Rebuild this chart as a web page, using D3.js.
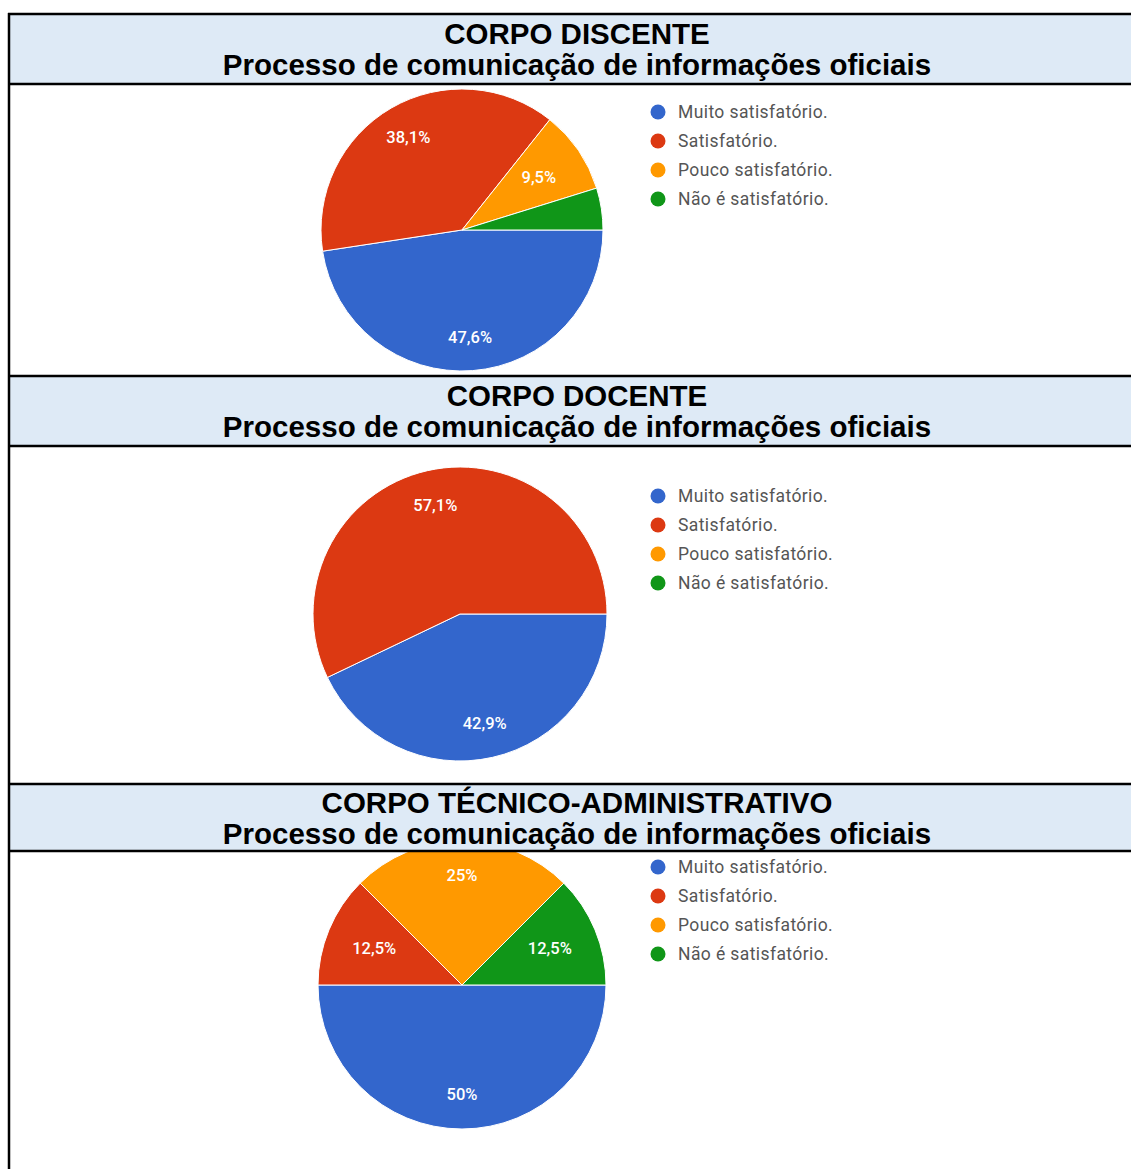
<!DOCTYPE html>
<html lang="pt">
<head>
<meta charset="utf-8">
<title>Processo de comunicação de informações oficiais</title>
<script src="https://d3js.org/d3.v7.min.js"></script>
<style>
  body { margin: 0; background: #fff; }
  .head { font-family: "Liberation Sans", Arial, sans-serif; font-weight: bold; font-size: 29.5px; fill: #000; }
  .legend text { font-family: Roboto, "Noto Sans", sans-serif; font-size: 17.5px; letter-spacing: 0.4px; fill: #555; }
  .slice-label { font-family: Roboto, "Noto Sans", sans-serif; font-size: 16.5px; font-weight: 500; fill: #fff; }
</style>
</head>
<body>
<svg id="chart" width="1131" height="1169"></svg>
<script>
// categories / series
var categories = ["Muito satisfatório.", "Satisfatório.", "Pouco satisfatório.", "Não é satisfatório."];
var groups = ["CORPO DISCENTE", "CORPO DOCENTE", "CORPO TÉCNICO-ADMINISTRATIVO"];
var subtitle = "Processo de comunicação de informações oficiais";
var discente = [47.6, 38.1, 9.5, 4.8];
var docente = [42.9, 57.1, 0, 0];
var tecnico = [50, 12.5, 25, 12.5];
var series = [discente, docente, tecnico];

var colors = ["#3366cc", "#dc3912", "#ff9900", "#109618"];

// layout of the table rows (cellEnd = where the picture cell stops)
var panels = [
  {top: 14,  bottom: 84,  cellEnd: 376,  cx: 462, cy: 230, r: 141},
  {top: 376, bottom: 446, cellEnd: 784,  cx: 460, cy: 614, r: 147},
  {top: 784, bottom: 851, cellEnd: 1169, cx: 462, cy: 985, r: 144}
];

var svg = d3.select("#chart"),
    W = 1131, tableLeft = 9, tableMid = 577;

var color = d3.scaleOrdinal().domain(categories).range(colors);

var pie = d3.pie()
    .sort(null)
    .value(function(d) { return d.value; })
    .startAngle(Math.PI / 2)
    .endAngle(Math.PI / 2 + 2 * Math.PI);

var fmt = function(v) { return String(v).replace(".", ",") + "%"; };

panels.forEach(function(p, i) {
  // picture cell, clipped like the pasted screenshot
  svg.append("clipPath").attr("id", "cell" + i)
    .append("rect")
      .attr("x", 0).attr("y", p.bottom + 1)
      .attr("width", W).attr("height", p.cellEnd - p.bottom - 1);

  var rows = categories.map(function(c, k) { return {cat: c, value: series[i][k]}; });
  var arcs = pie(rows).filter(function(a) { return a.data.value > 0; });
  var arc = d3.arc().innerRadius(0).outerRadius(p.r);
  var labelR = function(d) { return p.r * ((d.endAngle - d.startAngle) >= Math.PI / 2 ? 0.76 : 0.66); };

  var g = svg.append("g").attr("clip-path", "url(#cell" + i + ")")
    .append("g").attr("transform", "translate(" + p.cx + "," + p.cy + ")");

  g.selectAll("path")
    .data(arcs)
    .enter().append("path")
      .attr("d", arc)
      .attr("fill", function(d) { return color(d.data.cat); })
      .attr("stroke", "#fff")
      .attr("stroke-width", 1);

  g.selectAll("text")
    .data(arcs.filter(function(d) { return d.data.value >= 5; }))
    .enter().append("text")
      .attr("class", "slice-label")
      .attr("transform", function(d) {
        var lr = labelR(d);
        return "translate(" + d3.arc().innerRadius(lr).outerRadius(lr).centroid(d) + ")";
      })
      .attr("text-anchor", "middle")
      .attr("dy", "0.35em")
      .text(function(d) { return fmt(d.data.value); });

  // legend
  var lg = svg.append("g").attr("class", "legend")
      .attr("transform", "translate(658," + (p.cy - 118) + ")");
  var item = lg.selectAll("g")
    .data(categories)
    .enter().append("g")
      .attr("transform", function(d, k) { return "translate(0," + k * 29 + ")"; });
  item.append("circle").attr("r", 7.5).attr("fill", function(d) { return color(d); });
  item.append("text").attr("x", 20).attr("dy", "0.35em").text(function(d) { return d; });

  // header band
  var mid = (p.top + p.bottom) / 2;
  svg.append("rect")
      .attr("x", tableLeft).attr("y", p.top)
      .attr("width", W - tableLeft).attr("height", p.bottom - p.top)
      .attr("fill", "#deeaf6");

  svg.append("text").attr("class", "head")
      .attr("x", tableMid).attr("y", mid - 15.5 + 10.5)
      .attr("text-anchor", "middle")
      .text(groups[i]);
  svg.append("text").attr("class", "head")
      .attr("x", tableMid).attr("y", mid + 15.5 + 10.5)
      .attr("text-anchor", "middle")
      .text(subtitle);

  [p.top, p.bottom].forEach(function(y) {
    svg.append("line")
        .attr("x1", tableLeft - 1).attr("x2", W)
        .attr("y1", y).attr("y2", y)
        .attr("stroke", "#000").attr("stroke-width", 2.5);
  });
});

// left border of the table
svg.append("line")
    .attr("x1", tableLeft).attr("x2", tableLeft)
    .attr("y1", 13).attr("y2", 1169)
    .attr("stroke", "#000").attr("stroke-width", 2.5);
</script>
</body>
</html>
